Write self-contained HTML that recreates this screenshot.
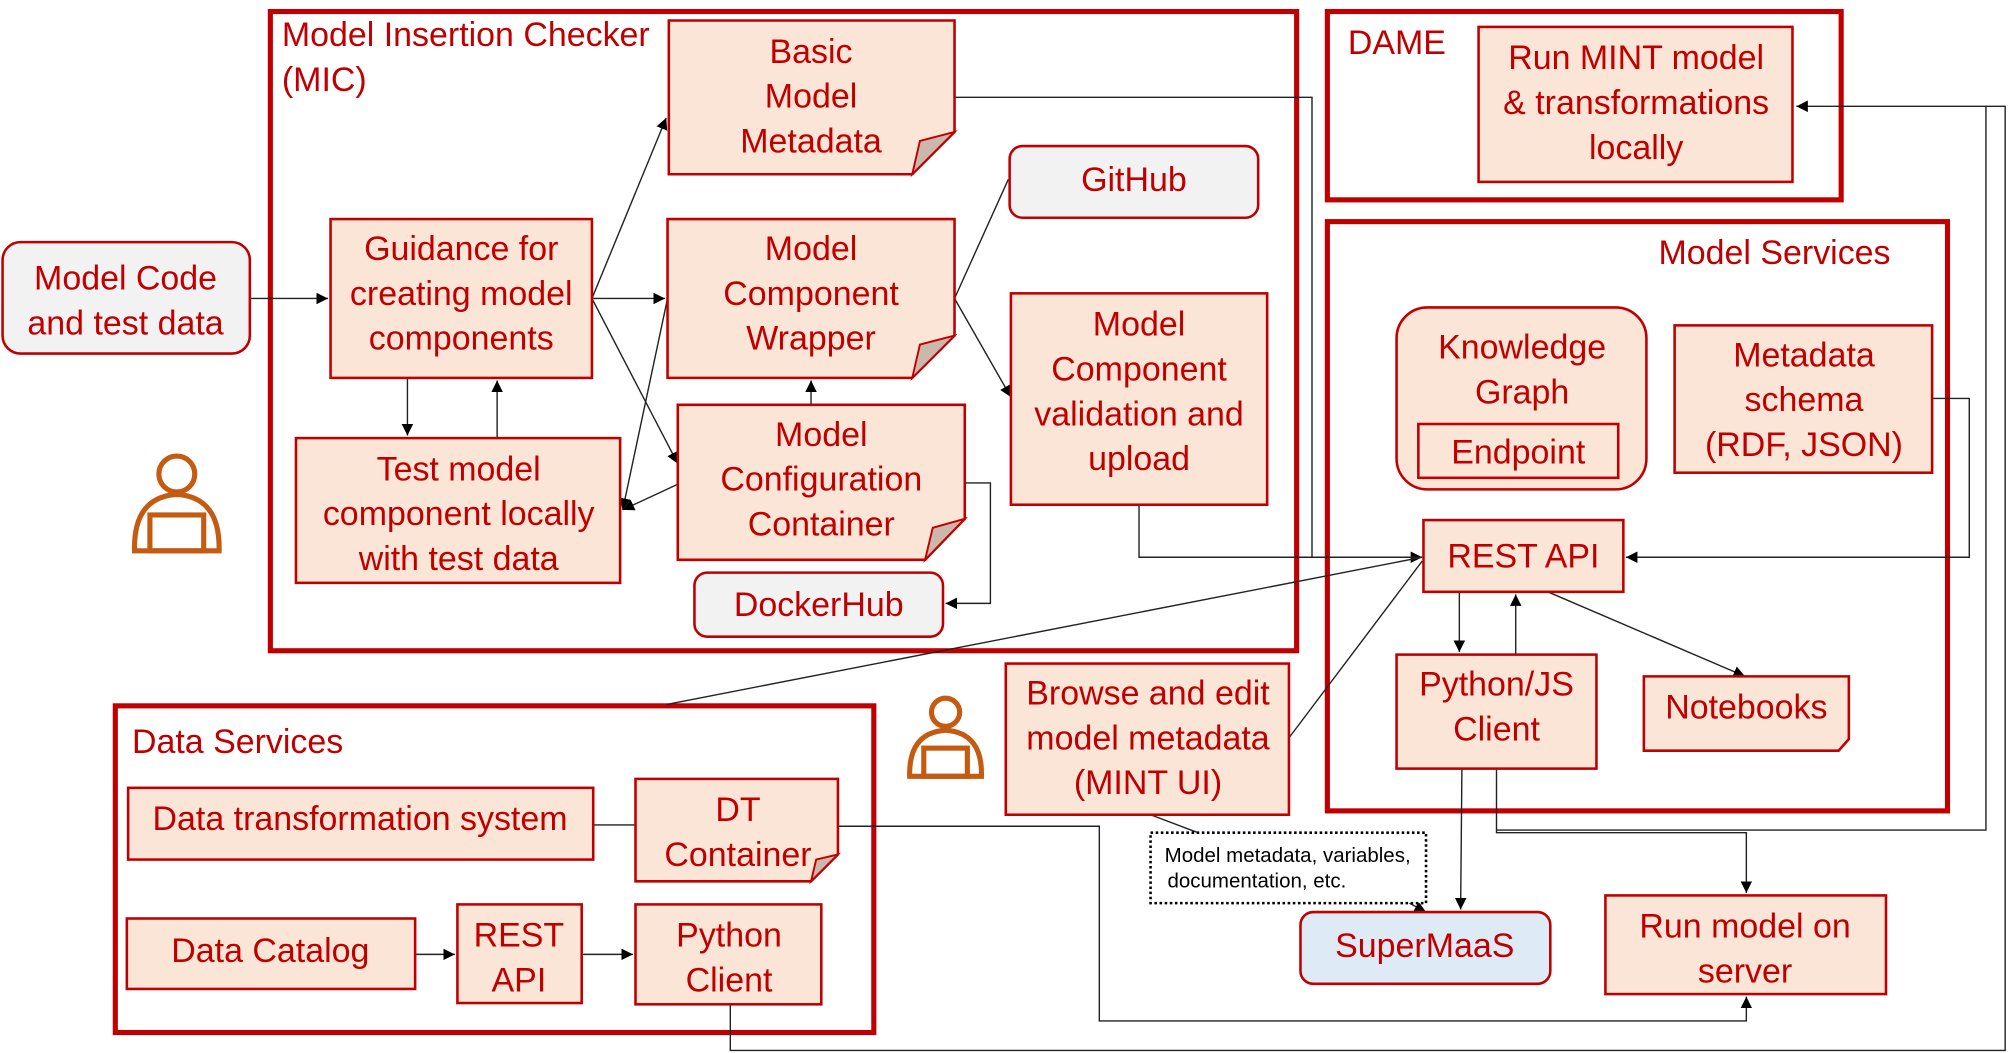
<!DOCTYPE html>
<html><head><meta charset="utf-8"><style>html,body{margin:0;padding:0;background:#fff}svg{display:block}
text{font-family:"Liberation Sans",sans-serif;fill:#c00000;font-size:26.5px;text-anchor:middle}
.b{fill:#fbe5d6;stroke:#c00000;stroke-width:2}.g{fill:#f2f2f2;stroke:#c00000;stroke-width:2}
.c{fill:none;stroke:#c00000;stroke-width:4}.l{fill:none;stroke:#222;stroke-width:1.1}
.f{fill:#cbb8ad;stroke:#c00000;stroke-width:1.5}</style></head><body>
<svg width="2009" height="1053" viewBox="0 0 1568 822" preserveAspectRatio="none" xmlns="http://www.w3.org/2000/svg">
<defs><marker id="a" viewBox="0 0 10 10" refX="10" refY="5" markerWidth="9" markerHeight="9" orient="auto-start-reverse" markerUnits="userSpaceOnUse"><path d="M0,0L10,5L0,10z" fill="#000"/></marker></defs>
<rect class="c" x="211" y="9" width="801" height="499"/>
<rect class="c" x="1036" y="9" width="401" height="147"/>
<rect class="c" x="1036" y="173" width="484" height="460"/>
<rect class="c" x="90" y="551" width="592" height="255"/>
<g class="l">
<path d="M195,233H256" marker-end="url(#a)"/><path d="M462,233H519" marker-end="url(#a)"/>
<path d="M462,233L520,92" marker-end="url(#a)"/><path d="M462,233L529,362" marker-end="url(#a)"/>
<path d="M521,233L486,398" marker-end="url(#a)"/><path d="M529,378L486,398" marker-end="url(#a)"/>
<path d="M318,295V340" marker-end="url(#a)"/><path d="M388,342V297" marker-end="url(#a)"/>
<path d="M633,316V297" marker-end="url(#a)"/><path d="M745,233L787,140"/><path d="M745,233L789,310" marker-end="url(#a)"/>
<path d="M753,377H773V471H738" marker-end="url(#a)"/>
<path d="M745,76H1024V435H1110" marker-end="url(#a)"/><path d="M889,394V435H1110"/>
<path d="M520,550L1110,435"/><path d="M1006,576L1110,438"/>
<path d="M1508,311H1537V435H1269" marker-end="url(#a)"/>
<path d="M1139,462V509" marker-end="url(#a)"/><path d="M1183,511V464" marker-end="url(#a)"/>
<path d="M1208,462L1362,528" marker-end="url(#a)"/><path d="M1141,600L1140,710" marker-end="url(#a)"/>
<path d="M1168,600V650H1363V697" marker-end="url(#a)"/><path d="M1168,648H1550V83H1402" marker-end="url(#a)"/>
<path d="M570,784V820H1565V83H1550"/>
<path d="M654,645H858V797H1363V778" marker-end="url(#a)"/>
<path d="M463,644H496"/><path d="M324,745H355" marker-end="url(#a)"/><path d="M454,745H494" marker-end="url(#a)"/>
<path d="M898,636L935,650"/><path d="M1100,705L1113,712" marker-end="url(#a)"/>
</g>
<rect class="g" x="2" y="189" width="193" height="87" rx="14"/>
<text x="98" y="226">Model Code</text><text x="98" y="261">and test data</text>
<rect class="b" x="258" y="171" width="204" height="124"/>
<text x="360" y="203">Guidance for</text><text x="360" y="238">creating model</text><text x="360" y="273">components</text>
<path class="b" d="M522,16H745V103L712,136H522Z"/><path class="f" d="M745,103L712,136L718,110Z"/>
<text x="633" y="49">Basic</text><text x="633" y="84">Model</text><text x="633" y="119">Metadata</text>
<path class="b" d="M521,171H745V262L712,295H521Z"/><path class="f" d="M745,262L712,295L718,269Z"/>
<text x="633" y="203">Model</text><text x="633" y="238">Component</text><text x="633" y="273">Wrapper</text>
<rect class="g" x="788" y="114" width="194" height="56" rx="10"/><text x="885" y="149">GitHub</text>
<rect class="b" x="789" y="229" width="200" height="165"/>
<text x="889" y="262">Model</text><text x="889" y="297">Component</text><text x="889" y="332">validation and</text><text x="889" y="367">upload</text>
<path class="b" d="M529,316H753V405L722,437H529Z"/><path class="f" d="M753,405L722,437L728,412Z"/>
<text x="641" y="348">Model</text><text x="641" y="383">Configuration</text><text x="641" y="418">Container</text>
<rect class="b" x="231" y="342" width="253" height="113"/>
<text x="358" y="375">Test model</text><text x="358" y="410">component locally</text><text x="358" y="445">with test data</text>
<rect class="g" x="542" y="447" width="194" height="50" rx="10"/><text x="639" y="481">DockerHub</text>
<text x="220" y="36" style="text-anchor:start">Model Insertion Checker</text><text x="220" y="71" style="text-anchor:start">(MIC)</text>
<text x="1052" y="42" style="text-anchor:start">DAME</text>
<rect class="b" x="1154" y="21" width="245" height="121"/>
<text x="1277" y="54">Run MINT model</text><text x="1277" y="89">&amp; transformations</text><text x="1277" y="124">locally</text>
<text x="1385" y="206">Model Services</text>
<rect class="b" x="1090" y="240" width="195" height="142" rx="24"/>
<text x="1188" y="280">Knowledge</text><text x="1188" y="315">Graph</text>
<rect class="b" x="1107" y="331" width="156" height="42"/><text x="1185" y="362">Endpoint</text>
<rect class="b" x="1307" y="254" width="201" height="115"/>
<text x="1408" y="286">Metadata</text><text x="1408" y="321">schema</text><text x="1408" y="356">(RDF, JSON)</text>
<rect class="b" x="1111" y="406" width="156" height="56"/><text x="1189" y="443">REST API</text>
<rect class="b" x="1090" y="511" width="156" height="89"/><text x="1168" y="543">Python/JS</text><text x="1168" y="578">Client</text>
<path class="b" d="M1283,528H1443V577L1435,586H1283Z"/><text x="1363" y="561">Notebooks</text>
<rect class="b" x="785" y="518" width="221" height="118"/>
<text x="896" y="550">Browse and edit</text><text x="896" y="585">model metadata</text><text x="896" y="620">(MINT UI)</text>
<rect x="898" y="650" width="215" height="55" fill="#fff" stroke="#000" stroke-width="2" stroke-dasharray="2,2"/>
<text x="1005" y="673" style="fill:#000;font-size:16px">Model metadata, variables,</text><text x="981" y="693" style="fill:#000;font-size:16px">documentation, etc.</text>
<rect x="1015" y="712" width="195" height="56" rx="10" fill="#deebf7" stroke="#c00000" stroke-width="2"/><text x="1112" y="747">SuperMaaS</text>
<rect class="b" x="1253" y="699" width="219" height="77"/><text x="1362" y="732">Run model on</text><text x="1362" y="767">server</text>
<text x="103" y="588" style="text-anchor:start">Data Services</text>
<rect class="b" x="100" y="615" width="363" height="56"/><text x="281" y="648">Data transformation system</text>
<path class="b" d="M496,608H654V667L633,688H496Z"/><path class="f" d="M654,667L633,688L637,671Z"/>
<text x="576" y="641">DT</text><text x="576" y="676">Container</text>
<rect class="b" x="99" y="717" width="225" height="55"/><text x="211" y="751">Data Catalog</text>
<rect class="b" x="357" y="706" width="97" height="77"/><text x="405" y="739">REST</text><text x="405" y="774">API</text>
<rect class="b" x="496" y="706" width="145" height="78"/><text x="569" y="739">Python</text><text x="569" y="774">Client</text>
<g fill="none" stroke="#c55a11" stroke-width="4">
<circle cx="138" cy="370" r="14"/><path d="M105,430Q104,388 138,386Q172,388 171,430Z"/><rect x="117" y="402" width="42" height="28"/>
<circle cx="738" cy="556" r="11"/><path d="M710,606Q709,572 738,570Q767,572 766,606Z"/><rect x="721" y="584" width="34" height="22"/>
</g>
</svg></body></html>
